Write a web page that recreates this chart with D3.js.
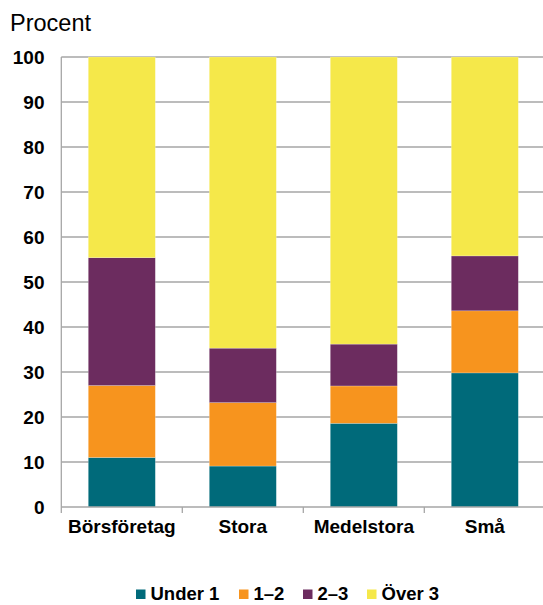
<!DOCTYPE html>
<html><head><meta charset="utf-8">
<script src="https://cdn.jsdelivr.net/npm/d3@7"></script>
<style>body{margin:0;background:#fff}svg{display:block;font-family:"Liberation Sans",Arial,sans-serif}</style>
</head><body><svg id="c" width="543" height="605"></svg>
<script>
const categories = ["Börsföretag","Stora","Medelstora","Små"];
const seriesNames = ["Under 1","1–2","2–3","Över 3"];
const under1 = [11.0, 9.1, 18.6, 29.8];
const s12    = [16.0, 14.1, 8.3, 13.8];
const s23    = [28.4, 12.1, 9.3, 12.2];
const over3  = [44.6, 64.7, 63.8, 44.2];
const yTicks = [0,10,20,30,40,50,60,70,80,90,100];
const colors = ["#006A7A","#F7941E","#6C2C5F","#F5E84A"];

const svg = d3.select("#c");
const L = 61.3, R = 545.3, T = 57, B = 507;
const x = d3.scaleBand().domain(categories).range([L, R]).paddingInner(0.446).paddingOuter(0.223);
const y = d3.scaleLinear().domain([0,100]).range([B, T]);

const rows = categories.map((c,i)=>({cat:c, "Under 1":under1[i], "1–2":s12[i], "2–3":s23[i], "Över 3":over3[i]}));
const stack = d3.stack().keys(seriesNames)(rows);

// gridlines
svg.append("g").selectAll("line").data(yTicks.filter(d=>d>0)).join("line")
  .attr("x1", L).attr("x2", R).attr("y1", d=>y(d)).attr("y2", d=>y(d))
  .attr("stroke","#a6a6a6").attr("stroke-width",1.3);

// bars
svg.append("g").selectAll("g").data(stack).join("g")
  .attr("fill",(d,i)=>colors[i])
  .selectAll("rect").data(d=>d).join("rect")
  .attr("x", d=>x(d.data.cat)).attr("width", x.bandwidth())
  .attr("y", d=>y(d[1])).attr("height", d=>y(d[0])-y(d[1]))
  .attr("stroke","rgba(255,255,255,0.35)").attr("stroke-width",0.6);

// axes
svg.append("line").attr("x1",L).attr("x2",L).attr("y1",T).attr("y2",B).attr("stroke","#a6a6a6").attr("stroke-width",1.3);
svg.append("line").attr("x1",L).attr("x2",R).attr("y1",B).attr("y2",B).attr("stroke","#a6a6a6").attr("stroke-width",1.3);
const bounds = [L, ...categories.slice(1).map(c=>x(c)-x.step()*x.paddingInner()/2), R];
svg.append("g").selectAll("line").data(bounds).join("line")
  .attr("x1",d=>d).attr("x2",d=>d).attr("y1",B).attr("y2",B+6)
  .attr("stroke","#a6a6a6").attr("stroke-width",1.3);

// y labels
svg.append("g").selectAll("text").data(yTicks).join("text")
  .attr("x",44.5).attr("y",d=>y(d)).attr("dy","0.35em").attr("text-anchor","end")
  .attr("font-size",19).attr("font-weight","bold").attr("fill","#000").text(d=>d);

// x labels
svg.append("g").selectAll("text").data(categories).join("text")
  .attr("x",d=>x(d)+x.bandwidth()/2).attr("y",532.5).attr("text-anchor","middle")
  .attr("font-size",19).attr("font-weight","bold").attr("fill","#000").text(d=>d);

svg.append("text").attr("x",10).attr("y",30.5).attr("font-size",23.5).attr("fill","#000").text("Procent");

// legend
const legX = [136, 239, 303, 367];
const lg = svg.append("g").selectAll("g").data(seriesNames).join("g")
  .attr("transform",(d,i)=>`translate(${legX[i]},589.5)`);
lg.append("rect").attr("width",9.5).attr("height",9.5).attr("fill",(d,i)=>colors[i]);
lg.append("text").attr("x",14.5).attr("y",10.3).attr("font-size",18.5).attr("font-weight","bold").attr("fill","#000").text(d=>d);
</script></body></html>
